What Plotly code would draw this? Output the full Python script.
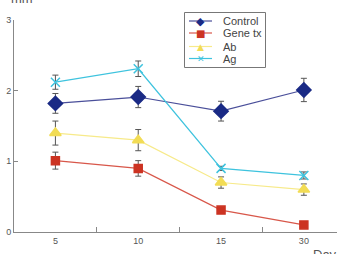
import plotly.graph_objects as go

days = ["5", "10", "15", "30"]
control = [1.82, 1.91, 1.71, 2.01]
control_err = [0.14, 0.15, 0.14, 0.165]
gene = [1.01, 0.90, 0.31, 0.10]
gene_err = [0.12, 0.11, 0.025, 0.025]
ab = [1.40, 1.30, 0.70, 0.60]
ab_err = [0.17, 0.15, 0.08, 0.08]
ag = [2.12, 2.31, 0.90, 0.80]
ag_err = [0.10, 0.11, 0.03, 0.05]

series = [
    ("Control", control, control_err, "#4a4f9a", "#1a2a85", "diamond", 11, "◆", 11),
    ("Gene tx", gene, gene_err, "#d8574a", "#cc3322", "square", 8, "■", 10),
    ("Ab", ab, ab_err, "#f7ea8a", "#f2dc55", "triangle-up", 10, "▲", 9),
    ("Ag", ag, ag_err, "#3ec3de", "#3ec3de", "x-thin-open", 9, "✕", 9),
]

W, H = 337, 254
L, R, T, B = 14, 0, 20, 22
PW, PH = W - L - R, H - T - B


def px(x):
    return (x - L) / PW


def py(y):
    return (H - B - y) / PH


fig = go.Figure()
shapes = []
annotations = []
legend_y = [21, 33, 46.5, 58.5]
for (name, vals, err, lc, mc, sym, sz, glyph, gsz), ly in zip(series, legend_y):
    fig.add_trace(go.Scatter(
        x=days, y=vals, name=name, mode="lines+markers",
        line=dict(color=lc, width=1.2),
        marker=dict(color=mc, symbol=sym, size=sz, line=dict(color=mc, width=1.5)),
        error_y=dict(type="data", array=err, color="#555555", thickness=1, width=3),
        showlegend=False,
    ))
    # custom compact legend entry
    shapes.append(dict(type="line", xref="paper", yref="paper",
                       x0=px(189), x1=px(212), y0=py(ly), y1=py(ly),
                       line=dict(color=lc, width=1.2)))
    annotations.append(dict(text=glyph, xref="paper", yref="paper", x=px(200.5), y=py(ly),
                            xanchor="center", yanchor="middle", showarrow=False,
                            font=dict(size=gsz, color=mc, family="DejaVu Sans")))
    annotations.append(dict(text=name, xref="paper", yref="paper", x=px(221), y=py(ly),
                            xanchor="left", yanchor="middle", showarrow=False,
                            font=dict(size=11, color="#444444")))

shapes.append(dict(type="rect", xref="paper", yref="paper",
                   x0=px(184.5), x1=px(265.5), y0=py(12.5), y1=py(67.5),
                   line=dict(color="#777777", width=1), fillcolor="rgba(0,0,0,0)",
                   layer="below"))

annotations += [
    dict(text="mm", xref="paper", yref="paper", x=px(9), y=py(-1), xanchor="left",
         yanchor="middle", showarrow=False, font=dict(size=13, color="#555555")),
    dict(text="Day", xref="paper", yref="paper", x=px(311), y=py(255), xanchor="left",
         yanchor="middle", showarrow=False, font=dict(size=13, color="#555555")),
]

fig.update_layout(
    width=W, height=H,
    margin=dict(l=L, r=R, t=T, b=B),
    paper_bgcolor="white", plot_bgcolor="white",
    font=dict(family="Liberation Sans, Arial, sans-serif", size=9, color="#555555"),
    showlegend=False,
    shapes=shapes,
    annotations=annotations,
)
fig.update_xaxes(
    type="category", range=[-0.5, 3.4], showline=True, linecolor="#888888",
    linewidth=1, ticks="inside", tickson="boundaries", ticklen=5,
    tickcolor="#888888", showgrid=False, zeroline=False,
)
fig.update_yaxes(
    range=[0, 3], tickvals=[0, 1, 2, 3], showline=True, linecolor="#888888",
    linewidth=1, ticks="inside", ticklen=4, tickcolor="#888888",
    showgrid=False, zeroline=False,
)

fig.write_html("out.html")
